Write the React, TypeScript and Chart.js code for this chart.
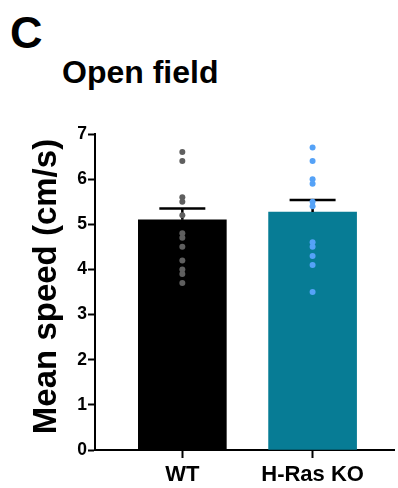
import React, { useEffect, useRef } from "react";
import { Chart, registerables } from "chart.js";

Chart.register(...registerables);

const categories = ["WT", "H-Ras KO"];
const meanSpeed = [5.1, 5.27];
const semSpeed = [0.25, 0.27];
const wtPoints = [6.6, 6.4, 5.6, 5.5, 5.2, 4.8, 4.7, 4.5, 4.2, 4.0, 3.9, 3.7];
const koPoints = [6.7, 6.4, 6.0, 5.9, 5.5, 5.4, 4.6, 4.5, 4.3, 4.1, 3.5];
const yTicks = [0, 1, 2, 3, 4, 5, 6, 7];
const yTitle = "Mean speed (cm/s)";

const FONT = "'Liberation Sans', Arial, Helvetica, sans-serif";
const BAR_INDEX = 2;

const errorBarPlugin = {
  id: "errorBars",
  afterDatasetDraw(chart: any, args: any) {
    if (args.index !== BAR_INDEX) return;
    const { ctx, scales } = chart;
    const x = scales.x;
    const y = scales.y;
    meanSpeed.forEach((m, i) => {
      const cx = x.getPixelForValue(i + 1);
      const yBar = y.getPixelForValue(m);
      const yTop = y.getPixelForValue(m + semSpeed[i]);
      ctx.save();
      ctx.strokeStyle = "#000";
      ctx.lineWidth = 2.5;
      ctx.beginPath();
      ctx.moveTo(cx, yBar);
      ctx.lineTo(cx, yTop);
      ctx.moveTo(cx - 23, yTop);
      ctx.lineTo(cx + 23, yTop);
      ctx.stroke();
      ctx.restore();
    });
  },
};

const yTitlePlugin = {
  id: "yTitle",
  afterDraw(chart: any) {
    const { ctx, chartArea } = chart;
    ctx.save();
    ctx.translate(47, (chartArea.top + chartArea.bottom) / 2 - 5.5);
    ctx.rotate(-Math.PI / 2);
    ctx.font = `bold 33px ${FONT}`;
    ctx.fillStyle = "#000";
    ctx.textAlign = "center";
    ctx.textBaseline = "middle";
    ctx.fillText(yTitle, 0, 0);
    ctx.restore();
  },
};

export default function App() {
  const ref = useRef<HTMLCanvasElement | null>(null);

  useEffect(() => {
    if (!ref.current) return;
    const chart = new Chart(ref.current, {
      type: "bar",
      data: {
        datasets: [
          {
            type: "scatter",
            data: wtPoints.map((v) => ({ x: 1, y: v })),
            backgroundColor: "#5f5f5f",
            borderColor: "#5f5f5f",
            pointRadius: 3,
            pointBorderWidth: 0,
            order: 0,
          } as any,
          {
            type: "scatter",
            data: koPoints.map((v) => ({ x: 2, y: v })),
            backgroundColor: "#55a2f7",
            borderColor: "#55a2f7",
            pointRadius: 3,
            pointBorderWidth: 0,
            order: 0,
          } as any,
          {
            type: "bar",
            data: meanSpeed.map((v, i) => ({ x: i + 1, y: v })),
            backgroundColor: ["#000000", "#077c95"],
            borderWidth: 0,
            barThickness: 88,
            order: 1,
          } as any,
        ],
      },
      options: {
        animation: false,
        responsive: false,
        layout: { padding: { top: 134, left: 0, right: 0, bottom: 0 } },
        plugins: {
          legend: { display: false },
          tooltip: { enabled: false },
        },
        scales: {
          x: {
            type: "linear",
            offset: false,
            bounds: "ticks",
            min: 0.3295,
            max: 2.625,
            afterBuildTicks: (scale: any) => {
              scale.ticks = categories.map((_, i) => ({ value: i + 1 }));
            },
            afterFit: (scale: any) => {
              scale.height = 38;
            },
            ticks: {
              callback: (v: any) => categories[Math.round(Number(v)) - 1] ?? "",
              color: "#000",
              font: { family: FONT, size: 22, weight: "bold" },
              padding: 4,
              maxRotation: 0,
              autoSkip: false,
            },
            grid: {
              offset: false,
              drawOnChartArea: false,
              drawTicks: true,
              tickLength: 8,
              tickWidth: 2,
              tickColor: "#000",
            },
            border: { display: true, color: "#000", width: 2 },
          },
          y: {
            type: "linear",
            min: 0,
            max: 7,
            afterBuildTicks: (scale: any) => {
              scale.ticks = yTicks.map((v) => ({ value: v }));
            },
            afterFit: (scale: any) => {
              scale.width = 95;
            },
            ticks: {
              color: "#000",
              font: { family: FONT, size: 17.5, weight: "bold" },
              padding: 1,
            },
            grid: {
              drawOnChartArea: false,
              drawTicks: true,
              tickLength: 7,
              tickWidth: 2,
              tickColor: "#000",
            },
            border: { display: true, color: "#000", width: 2 },
          },
        },
      },
      plugins: [errorBarPlugin, yTitlePlugin],
    });
    return () => chart.destroy();
  }, []);

  return (
    <div style={{ position: "fixed", left: 0, top: 0, width: 398, height: 488, background: "#fff" }}>
      <div
        style={{
          position: "absolute",
          left: 10,
          top: 10,
          fontFamily: FONT,
          fontWeight: "bold",
          fontSize: 45,
          lineHeight: 1,
          color: "#000",
        }}
      >
        C
      </div>
      <div
        style={{
          position: "absolute",
          left: 62,
          top: 56,
          fontFamily: FONT,
          fontWeight: "bold",
          fontSize: 32,
          lineHeight: 1,
          color: "#000",
          whiteSpace: "nowrap",
        }}
      >
        Open field
      </div>
      <canvas ref={ref} width={398} height={488} style={{ position: "absolute", left: 0, top: 0, width: 398, height: 488 }} />
    </div>
  );
}
